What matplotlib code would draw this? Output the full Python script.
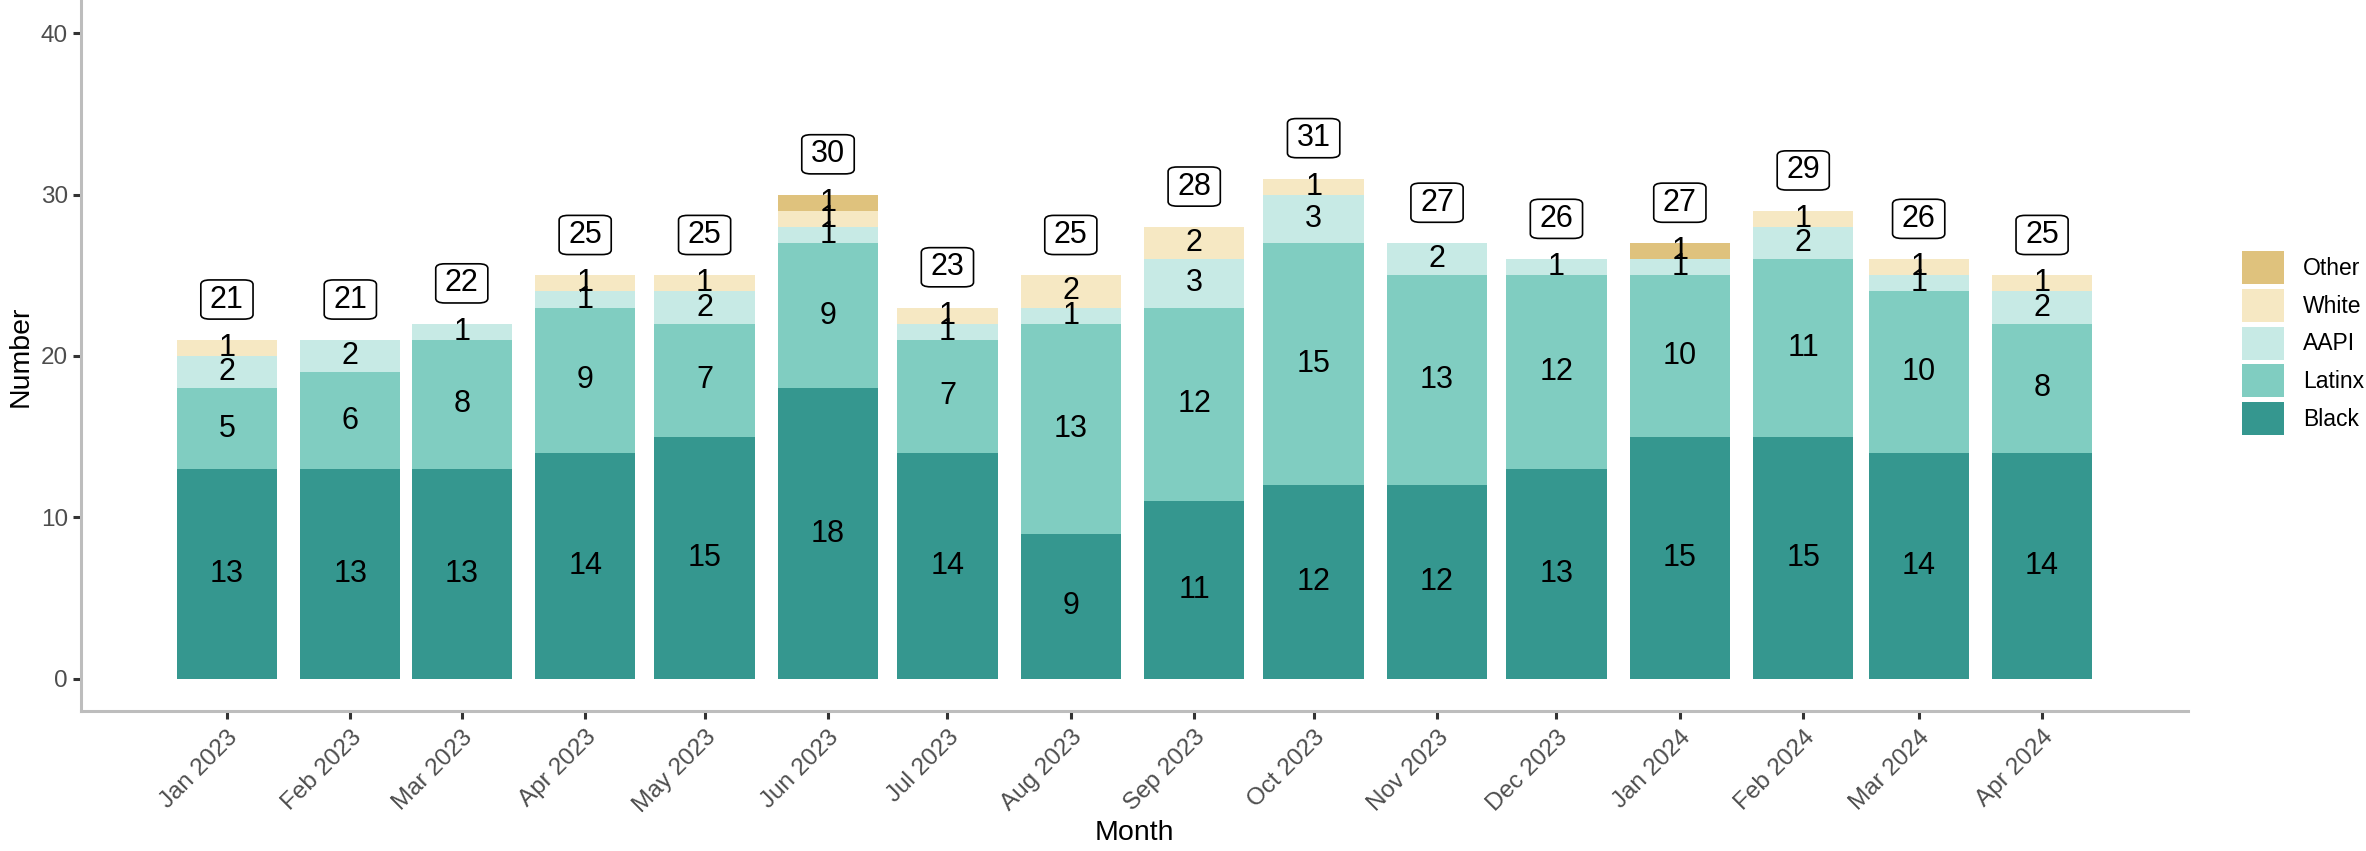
import matplotlib
matplotlib.use('Agg')
import matplotlib.pyplot as plt
import matplotlib.dates as mdates
import numpy as np
from datetime import date
from matplotlib.patches import Patch

plt.rcParams['font.family'] = ['Liberation Sans', 'DejaVu Sans']

# Data
months = ['2023-01', '2023-02', '2023-03', '2023-04', '2023-05', '2023-06', '2023-07', '2023-08',
          '2023-09', '2023-10', '2023-11', '2023-12', '2024-01', '2024-02', '2024-03', '2024-04']
black = [13, 13, 13, 14, 15, 18, 14, 9, 11, 12, 12, 13, 15, 15, 14, 14]
latinx = [5, 6, 8, 9, 7, 9, 7, 13, 12, 15, 13, 12, 10, 11, 10, 8]
aapi = [2, 2, 1, 1, 2, 1, 1, 1, 3, 3, 2, 1, 1, 2, 1, 2]
white = [1, 0, 0, 1, 1, 1, 1, 2, 2, 1, 0, 0, 0, 1, 1, 1]
other = [0, 0, 0, 0, 0, 1, 0, 0, 0, 0, 0, 0, 1, 0, 0, 0]

groups = ['Black', 'Latinx', 'AAPI', 'White', 'Other']
series = [black, latinx, aapi, white, other]
colors = ['#35978f', '#80cdc1', '#c7eae5', '#f6e8c3', '#dfc27d']

dates = [date(int(m[:4]), int(m[5:]), 1) for m in months]
x = mdates.date2num(dates)
totals = np.sum(series, axis=0)

W, H = 2366, 851
fig = plt.figure(figsize=(W / 100, H / 100), dpi=100)
ax = fig.add_axes([81 / W, (H - 711) / H, (2188 - 81) / W, 710 / H])

bar_w = 25.2
bottom = np.zeros(len(x))
for name, vals, col in zip(groups, series, colors):
    vals = np.array(vals)
    ax.bar(x, vals, bottom=bottom, width=bar_w, color=col, label=name, linewidth=0)
    for xi, b, v in zip(x, bottom, vals):
        if v > 0:
            ax.text(xi, b + v / 2, str(v), ha='center', va='center', fontsize=22, color='black')
    bottom += vals

# total labels in rounded boxes
for xi, t in zip(x, totals):
    ax.text(xi, t + 2.5, str(t), ha='center', va='center', fontsize=22, color='black',
            bbox=dict(boxstyle='round,pad=0.3,rounding_size=0.3', mutation_aspect=0.5,
                      fc='white', ec='black', lw=1.2))

x0 = mdates.date2num(date(2023, 1, 1))
ax.set_xlim(x0 - 36.66, x0 + 492.66)
ax.set_ylim(-2, 42)
ax.set_yticks([0, 10, 20, 30, 40])
ax.set_xticks(x)
ax.set_xticklabels([d.strftime('%b %Y') for d in dates], rotation=45, ha='right',
                   rotation_mode='anchor')

for s in ['top', 'right']:
    ax.spines[s].set_visible(False)
for s in ['left', 'bottom']:
    ax.spines[s].set_color('#bdbdbd')
    ax.spines[s].set_linewidth(2.2)
ax.tick_params(axis='both', colors='#333333', labelcolor='#4d4d4d', labelsize=17.5,
               length=6, width=2.2)
ax.tick_params(axis='x', pad=5)

ax.set_xlabel('Month', fontsize=20.5, color='black', labelpad=2)
ax.set_ylabel('Number', fontsize=20.5, color='black', labelpad=5)

handles = [Patch(facecolor=c, edgecolor='none', label=g) for g, c in zip(groups, colors)][::-1]
fig.legend(handles=handles, loc='upper left', bbox_to_anchor=(2242 / W, 1 - 251 / H),
           frameon=False, fontsize=16.5, handlelength=1.85, handleheight=1.85,
           labelspacing=0.2, handletextpad=0.8, borderpad=0, borderaxespad=0)

fig.savefig('out.png', dpi=100)
